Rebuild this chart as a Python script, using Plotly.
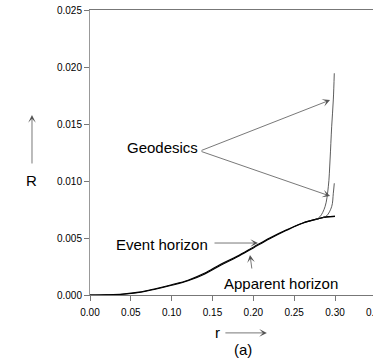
import plotly.graph_objects as go

# horizons
r_hor = [0, 0.02, 0.04, 0.06, 0.08, 0.10, 0.12, 0.14, 0.16, 0.18, 0.20, 0.22, 0.24, 0.26, 0.28, 0.29, 0.30]
R_event = [0, 0.00002, 0.00008, 0.00025, 0.00055, 0.0009, 0.0013, 0.0019, 0.0027, 0.0034, 0.0042,
           0.0050, 0.0057, 0.0063, 0.0067, 0.00685, 0.0069]
R_apparent = [0, 0.00002, 0.00007, 0.00022, 0.0005, 0.00085, 0.00125, 0.00183, 0.0026, 0.00333, 0.00413,
              0.00493, 0.00565, 0.0063, 0.0067, 0.00685, 0.0069]

# geodesics
r_geo1 = [0.276, 0.2816, 0.2878, 0.2918, 0.2939, 0.2959, 0.2979, 0.2991]
R_geo1 = [0.0066, 0.00687, 0.00775, 0.0095, 0.01184, 0.01476, 0.01711, 0.01945]
r_geo2 = [0.285, 0.2898, 0.2959, 0.2979, 0.2991]
R_geo2 = [0.0068, 0.00695, 0.00775, 0.00892, 0.0098]

x_ticks = [0.00, 0.05, 0.10, 0.15, 0.20, 0.25, 0.30]
y_ticks = [0.000, 0.005, 0.010, 0.015, 0.020, 0.025]

FONT = "Liberation Sans, Arial, sans-serif"
ARROW = "#555555"

fig = go.Figure()
fig.add_trace(go.Scatter(x=r_hor, y=R_event, mode="lines", line=dict(color="black", width=1.1, shape="spline")))
fig.add_trace(go.Scatter(x=r_hor, y=R_apparent, mode="lines", line=dict(color="black", width=1.1, shape="spline")))
fig.add_trace(go.Scatter(x=r_geo1, y=R_geo1, mode="lines", line=dict(color="#333333", width=0.8, shape="spline")))
fig.add_trace(go.Scatter(x=r_geo2, y=R_geo2, mode="lines", line=dict(color="#333333", width=0.8, shape="spline")))


def arrow(x, y, ax, ay, xref="x", yref="y"):
    fig.add_annotation(x=x, y=y, ax=ax, ay=ay, xref=xref, yref=yref, axref=xref, ayref=yref,
                       text="", showarrow=True, arrowhead=3, arrowsize=1.6, arrowwidth=0.8,
                       arrowcolor=ARROW)


def label(x, y, txt, xref="x", yref="y", size=15, xanchor="center"):
    fig.add_annotation(x=x, y=y, xref=xref, yref=yref, text=txt, showarrow=False,
                       xanchor=xanchor, yanchor="middle",
                       font=dict(size=size, color="black", family=FONT))


# Geodesics
label(0.0882, 0.01295, "Geodesics")
arrow(0.2939, 0.0171, 0.1347, 0.01263)
arrow(0.2939, 0.00868, 0.1347, 0.01263)
# Event horizon
label(0.0882, 0.00439, "Event horizon")
arrow(0.2057, 0.00456, 0.1506, 0.00456)
# Apparent horizon
label(0.2339, 0.00105, "Apparent horizon")
arrow(0.1959, 0.00351, 0.1984, 0.00219)
# axis labels (outside the plot area -> paper coordinates)
label(-0.205, 0.4035, "R", xref="paper", yref="paper")
fig.add_annotation(x=-0.205, y=0.6316, ax=0, ay=50, xref="paper", yref="paper",
                   text="", showarrow=True, arrowhead=3, arrowsize=1.6, arrowwidth=0.8,
                   arrowcolor=ARROW)
label(0.449, -0.133, "r", xref="paper", yref="paper")
fig.add_annotation(x=0.625, y=-0.133, ax=-43, ay=0, xref="paper", yref="paper",
                   text="", showarrow=True, arrowhead=3, arrowsize=1.6, arrowwidth=0.8,
                   arrowcolor=ARROW)
label(0.54, -0.19, "(a)", xref="paper", yref="paper")
# the 0.35 tick label runs off the right edge of the original
label(0.968, -0.062, "0.35", xref="paper", yref="paper", size=10, xanchor="left")

fig.update_layout(
    width=373, height=359, showlegend=False,
    margin=dict(l=90, r=0, t=10, b=64),
    paper_bgcolor="white", plot_bgcolor="white",
    font=dict(family=FONT, size=10, color="black"),
)
fig.update_xaxes(range=[0, 0.3465], tickvals=x_ticks, ticktext=[f"{v:.2f}" for v in x_ticks],
                 showgrid=False, zeroline=False, showline=True, linecolor="#777777", linewidth=1,
                 mirror=True, ticks="outside", ticklen=5, tickcolor="#777777", ticklabelstandoff=3)
fig.update_yaxes(range=[0, 0.025], tickvals=y_ticks, ticktext=[f"{v:.3f}" for v in y_ticks],
                 showgrid=False, zeroline=False, showline=True, linecolor="#999999", linewidth=1,
                 ticks="outside", ticklen=5, tickcolor="#777777")

# drop the default 8px body margin so the figure fills the window
fig.write_html("out.html", config={"displayModeBar": False},
               post_script="document.body.style.margin='0';")
